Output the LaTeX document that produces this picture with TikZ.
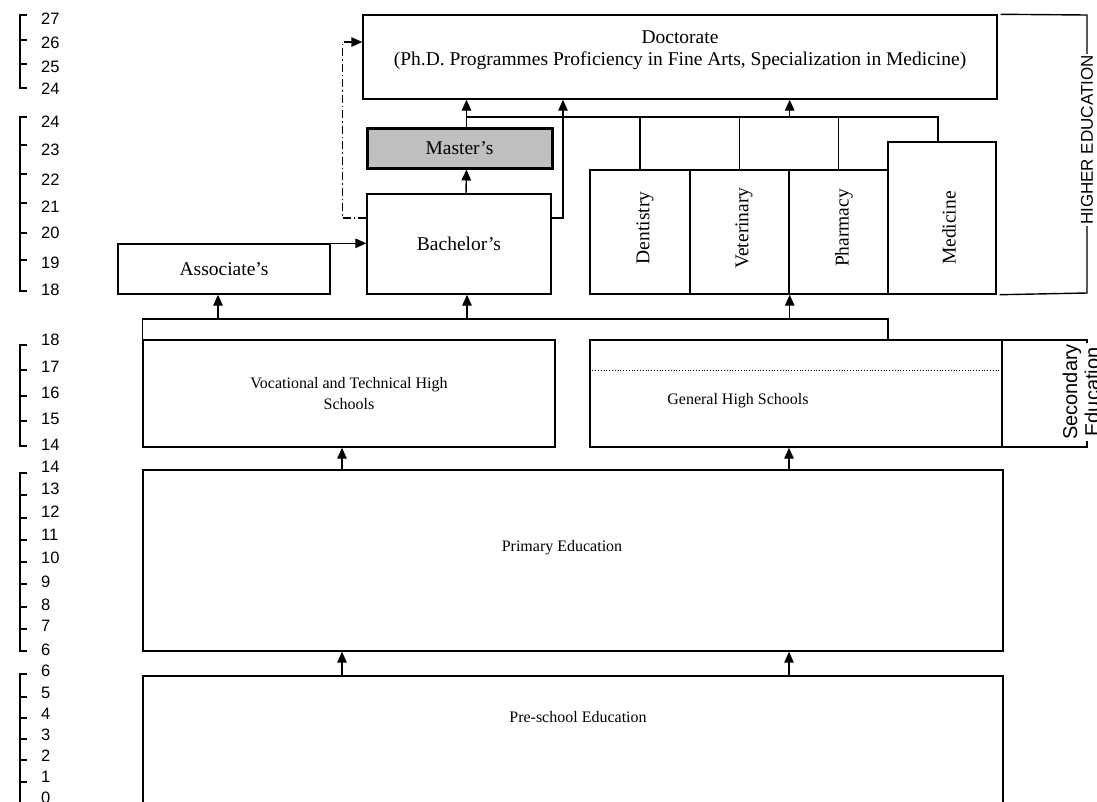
\documentclass[tikz,border=0pt]{standalone}
\usepackage{fontspec}
\setmainfont{Liberation Serif}
\setsansfont{Liberation Sans}
\usepackage{tikz}
\usetikzlibrary{calc}
\usetikzlibrary{positioning}
\usetikzlibrary{arrows.meta}

\begin{document}
\begin{tikzpicture}[x=1pt, y=-1pt,
	>={Triangle[length=11pt,width=9.5pt]},
	box/.style={draw, line width=1.4pt, inner sep=0pt, align=center, font=\fontsize{19.5}{22}\selectfont},
	lowbox/.style={box, font=\fontsize{16}{21}\selectfont},
	txt/.style={inner sep=0pt, align=center, font=\fontsize{19.5}{22}\selectfont},
	lowtxt/.style={inner sep=0pt, align=center, font=\fontsize{16}{21}\selectfont},
	link/.style={line width=1.4pt},
	up/.style={line width=1.4pt, ->},
	age/.style={anchor=west, inner sep=0pt, font=\sffamily\fontsize{16.5}{18}\selectfont},
	ruler/.style={line width=1.4pt},
	side/.style={rotate=90, fill=white, inner sep=1pt, align=center}]

	\useasboundingbox (0,0) rectangle (1097,801);

	% higher education
	\node[box, minimum width=634pt, minimum height=84pt] (doc) at (680,57) {};
	\node[txt] (doc-t) at (680,50) {Doctorate\\(Ph.D. Programmes Proficiency in Fine Arts, Specialization in Medicine)};
	\node[box, fill=gray!50, line width=3pt, minimum width=185pt, minimum height=40pt] (mas) at (459.5,148) {Master's};
	\node[box, minimum width=184pt, minimum height=100pt] (bac) at (459,244) {Bachelor's};
	\node[box, minimum width=212pt, minimum height=50pt] (ass) at (224,269) {Associate's};
	\node[box, minimum width=100pt, minimum height=124pt] (den) at (640,232) {};
	\node[box, minimum width=99pt, minimum height=124pt] (vet) at (739.5,232) {};
	\node[box, minimum width=99pt, minimum height=124pt] (pha) at (838.5,232) {};
	\node[box, minimum width=108pt, minimum height=152pt] (med) at (942,218) {};
	\node[txt, rotate=90] (den-t) at (645,228) {Dentistry};
	\node[txt, rotate=90] (vet-t) at (744,228) {Veterinary};
	\node[txt, rotate=90] (pha-t) at (844,228) {Pharmacy};
	\node[txt, rotate=90] (med-t) at (949,228) {Medicine};

	% secondary and below
	\node[lowbox, minimum width=412pt, minimum height=107pt] (voc) at (349,393.5) {Vocational and Technical High\\Schools};
	\node[lowbox, minimum width=412pt, minimum height=107pt] (gen) at (796,393.5) {};
	\node[lowtxt] (gen-t) at (738,401) {General High Schools};
	\node[box, minimum width=85pt, minimum height=107pt] (sec) at (1044.5,393.5) {};
	\node[side, font=\sffamily\fontsize{20}{22}\selectfont] (sec-t) at (1081,392) {Secondary\\Education};
	\node[lowbox, minimum width=860pt, minimum height=181pt] (pri) at (573,560.5) {};
	\node[lowtxt] (pri-t) at (562,548) {Primary Education};
	\node[lowbox, minimum width=860pt, minimum height=174pt] (pre) at (573,763) {};
	\node[lowtxt] (pre-t) at (578,717) {Pre-school Education};
	\draw[dotted, line width=0.8pt] ([xshift=3pt,yshift=-31pt]gen.north west) -- ([xshift=-2pt,yshift=-31pt]gen.north east);

	% connectors
	\coordinate (bus-l) at (467,117);
	\coordinate (bus-r) at (938,117);
	\coordinate (hs-r) at (888,319);
	\coordinate (he-t) at (1087,15);
	\coordinate (he-b) at (1087,293);
	\draw[link] (bus-l) -- (bus-r) -- (bus-r |- med.north);
	\draw[link] (den.north) -- (den.north |- bus-l);
	\draw[link] (vet.north) -- (vet.north |- bus-l);
	\draw[link] (pha.north) -- (pha.north |- bus-l);
	\draw[up] (vet.east |- bus-l) -- (vet.east |- doc.south);
	\draw[up] ([xshift=7pt]mas.north) -- ([xshift=7pt]mas.north |- doc.south);
	\draw[up] ([xshift=7pt]bac.north) -- ([xshift=7pt]mas.south);
	\draw[up] ([yshift=26pt]bac.east) -| ([xshift=-117pt]doc.south);
	\draw[->, line width=1.4pt, dash pattern=on 8pt off 3pt on 1.5pt off 3pt] ([yshift=26pt]bac.west) -- ++(-24,0) |- ([yshift=15pt]doc.west);
	\draw[up] (ass.north east) -- (bac.west |- ass.north east);
	\draw[link] (voc.north west) |- (hs-r) -- (hs-r |- gen.north);
	\draw[up] ([xshift=-6pt]ass.south |- hs-r) -- ([xshift=-6pt]ass.south);
	\draw[up] ([xshift=8pt]bac.south |- hs-r) -- ([xshift=8pt]bac.south);
	\draw[up] (vet.south east |- hs-r) -- (vet.south east);
	\draw[up] ([xshift=-7pt]voc.south |- pri.north) -- ([xshift=-7pt]voc.south);
	\draw[up] ([xshift=-7pt]gen.south |- pri.north) -- ([xshift=-7pt]gen.south);
	\draw[up] ([xshift=-231pt]pri.south |- pre.north) -- ([xshift=-231pt]pri.south);
	\draw[up] ([xshift=216pt]pri.south |- pre.north) -- ([xshift=216pt]pri.south);
	\draw[link] ([xshift=3pt]doc.north east) -- (he-t) -- (he-b) -- ([xshift=3pt]med.south east);
	\node[side, font=\sffamily\fontsize{17}{20}\selectfont] (he) at (1087,140) {HIGHER EDUCATION};

	% age ruler
	\draw[ruler] (27,15) -- (20,15) -- (20,88) -- (27,88) (20,40) -- (27,40) (20,64) -- (27,64);
	\node[age] (a27) at (41,19) {27};
	\node[age] (a26) at (41,43) {26};
	\node[age] (a25) at (41,67) {25};
	\node[age] (a24) at (41,89) {24};
	\draw[ruler] (27,117) -- (20,117) -- (20,291) -- (27,291) (20,145) -- (27,145) (20,174) -- (27,174) (20,203) -- (27,203) (20,233) -- (27,233) (20,260) -- (27,260);
	\node[age] (b24) at (41,122) {24};
	\node[age] (b23) at (41,150) {23};
	\node[age] (b22) at (41,180) {22};
	\node[age] (b21) at (41,207) {21};
	\node[age] (b20) at (41,233) {20};
	\node[age] (b19) at (41,263) {19};
	\node[age] (b18) at (41,290) {18};
	\draw[ruler] (27,345) -- (20,345) -- (20,446) -- (27,446) (20,370) -- (27,370) (20,396) -- (27,396) (20,421) -- (27,421);
	\node[age] (c18) at (41,340) {18};
	\node[age] (c17) at (41,367) {17};
	\node[age] (c16) at (41,393) {16};
	\node[age] (c15) at (41,419) {15};
	\node[age] (c14) at (41,445) {14};
	\draw[ruler] (27,473) -- (20,473) -- (20,651) -- (27,651) (20,495) -- (27,495) (20,518) -- (27,518) (20,540) -- (27,540) (20,562) -- (27,562) (20,584) -- (27,584) (20,607) -- (27,607) (20,629) -- (27,629);
	\node[age] (d14) at (41,467) {14};
	\node[age] (d13) at (41,489) {13};
	\node[age] (d12) at (41,512) {12};
	\node[age] (d11) at (41,535) {11};
	\node[age] (d10) at (41,558) {10};
	\node[age] (d9) at (41,582) {9};
	\node[age] (d8) at (41,605) {8};
	\node[age] (d7) at (41,626) {7};
	\node[age] (d6) at (41,650) {6};
	\draw[ruler] (27,674) -- (20,674) -- (20,805) (20,697) -- (27,697) (20,718) -- (27,718) (20,739) -- (27,739) (20,760) -- (27,760) (20,782) -- (27,782);
	\node[age] (e6) at (41,671) {6};
	\node[age] (e5) at (41,693) {5};
	\node[age] (e4) at (41,714) {4};
	\node[age] (e3) at (41,735) {3};
	\node[age] (e2) at (41,756) {2};
	\node[age] (e1) at (41,777) {1};
	\node[age] (e0) at (41,798) {0};
\end{tikzpicture}
\end{document}
